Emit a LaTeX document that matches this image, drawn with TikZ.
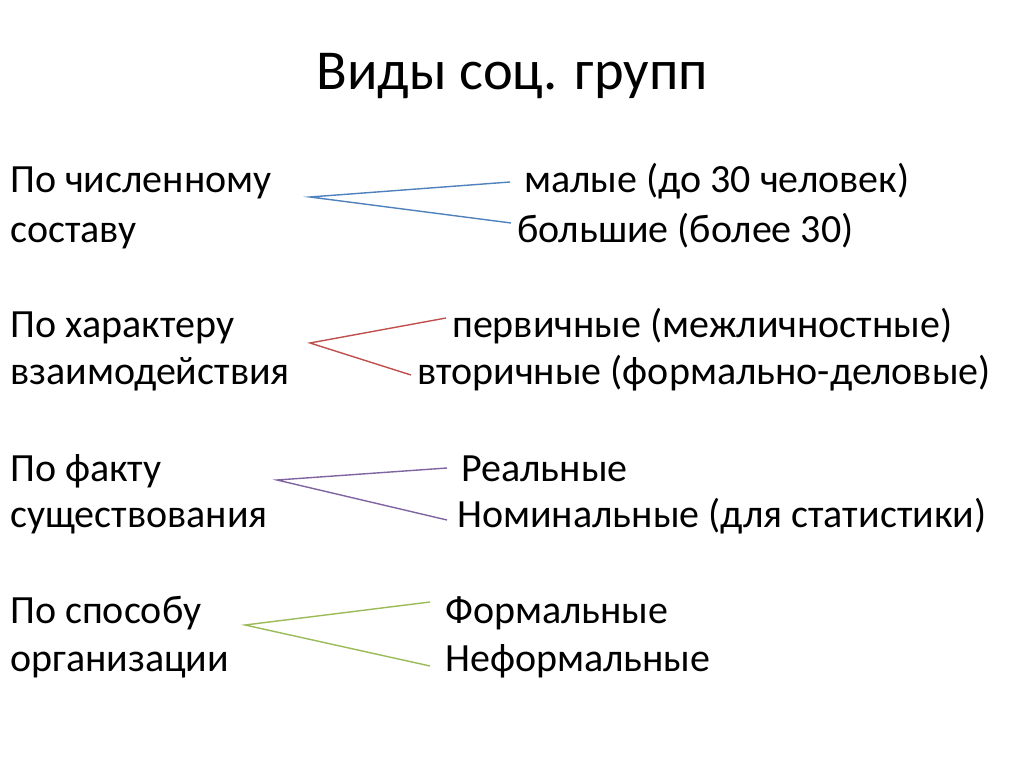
\documentclass[tikz,border=0pt]{standalone}
\usepackage{fontspec}
\setmainfont{Carlito}
\definecolor{oblue}{RGB}{79,129,189}
\definecolor{ored}{RGB}{192,80,77}
\definecolor{opurple}{RGB}{128,100,162}
\definecolor{ogreen}{RGB}{155,187,89}
\begin{document}
\begin{tikzpicture}[x=1pt,y=-1pt,
  txt/.style={anchor=base west,inner sep=0pt,font=\fontsize{40}{44}\selectfont},
  ttl/.style={anchor=base,inner sep=0pt,font=\fontsize{56.4}{60}\selectfont},
  br/.style={line width=1.4pt}]
\useasboundingbox (0,0) rectangle (1024,767);
\fill[white] (0,0) rectangle (1024,767);
\node[ttl] (title) at (512,90) {Виды соц. групп};
% row 1
\node[txt] (l1a) at (10,193) {По численному};
\node[txt] (l1b) at (10,242) {составу};
\node[txt] (r1a) at (524,193) {малые (до 30 человек)};
\node[txt] (r1b) at (517,242) {большие (более 30)};
\coordinate (a1) at (310,197);
\coordinate (e1a) at (510,182);
\coordinate (e1b) at (511,223);
\draw[br,oblue] (e1a) -- (a1) -- (e1b);
% row 2
\node[txt] (l2a) at (10,337) {По характеру};
\node[txt] (l2b) at (10,384) {взаимодействия};
\node[txt] (r2a) at (452,337) {первичные (межличностные)};
\node[txt] (r2b) at (417,384) {вторичные (формально-деловые)};
\coordinate (a2) at (310,343);
\coordinate (e2a) at (446,318);
\coordinate (e2b) at (411,375);
\draw[br,ored] (e2a) -- (a2) -- (e2b);
% row 3
\node[txt] (l3a) at (10,481) {По факту};
\node[txt] (l3b) at (10,527) {существования};
\node[txt] (r3a) at (461,481) {Реальные};
\node[txt] (r3b) at (457,527) {Номинальные (для статистики)};
\coordinate (a3) at (277,480);
\coordinate (e3a) at (447,468);
\coordinate (e3b) at (447,520);
\draw[br,opurple] (e3a) -- (a3) -- (e3b);
% row 4
\node[txt] (l4a) at (10,623) {По способу};
\node[txt] (l4b) at (10,671) {организации};
\node[txt] (r4a) at (445,623) {Формальные};
\node[txt] (r4b) at (445,671) {Неформальные};
\coordinate (a4) at (245,625);
\coordinate (e4a) at (430,602);
\coordinate (e4b) at (430,666);
\draw[br,ogreen] (e4a) -- (a4) -- (e4b);
\end{tikzpicture}
\end{document}
